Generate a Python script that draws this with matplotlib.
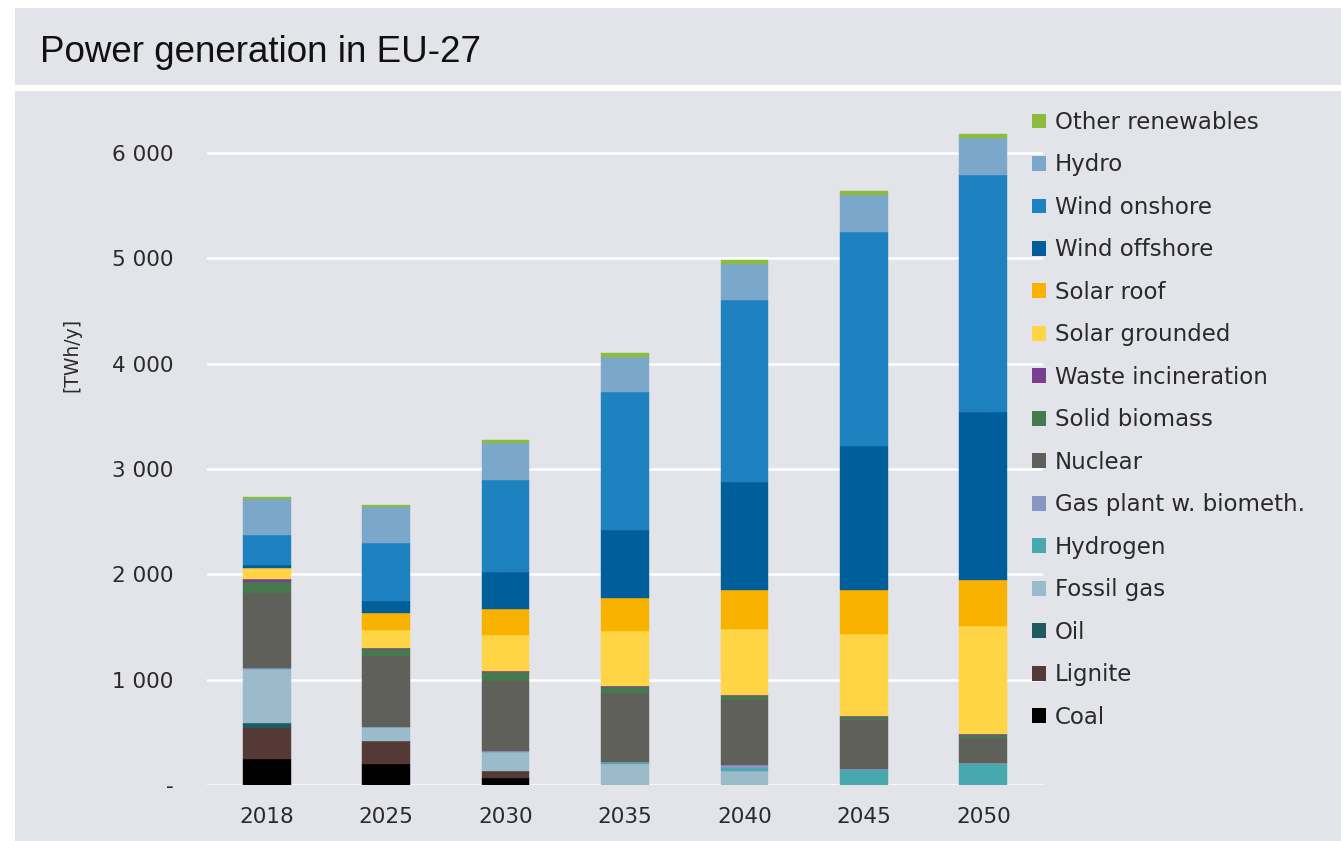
import matplotlib
matplotlib.use("Agg")
import matplotlib.pyplot as plt
from matplotlib.patches import Rectangle, Patch
import numpy as np

years = ["2018", "2025", "2030", "2035", "2040", "2045", "2050"]

coal = [247, 197, 64, 0, 0, 0, 0]
lignite = [297, 218, 69, 0, 0, 0, 0]
oil = [42, 0, 0, 0, 0, 0, 0]
fossil_gas = [513, 133, 182, 195, 130, 0, 0]
hydrogen = [0, 0, 0, 15, 36, 145, 199]
gas_biometh = [10, 0, 8, 6, 20, 11, 14]
nuclear = [717, 677, 667, 655, 621, 459, 236]
solid_biomass = [105, 64, 80, 57, 37, 26, 26]
waste_incineration = [25, 15, 13, 12, 13, 13, 13]
solar_grounded = [102, 168, 342, 522, 628, 778, 1024]
solar_roof = [0, 159, 244, 311, 369, 422, 431]
wind_offshore = [31, 116, 354, 649, 1026, 1362, 1600]
wind_onshore = [285, 548, 873, 1307, 1728, 2036, 2252]
hydro = [342, 342, 349, 338, 335, 347, 350]
other_renewables = [22, 22, 31, 38, 40, 38, 38]

series_labels = ["Coal", "Lignite", "Oil", "Fossil gas", "Hydrogen",
                 "Gas plant w. biometh.", "Nuclear", "Solid biomass",
                 "Waste incineration", "Solar grounded", "Solar roof",
                 "Wind offshore", "Wind onshore", "Hydro", "Other renewables"]
series_values = [coal, lignite, oil, fossil_gas, hydrogen, gas_biometh, nuclear,
                 solid_biomass, waste_incineration, solar_grounded, solar_roof,
                 wind_offshore, wind_onshore, hydro, other_renewables]
series_colors = ["#000000", "#553934", "#1E5A60", "#9BBBCA", "#47A9AE",
                 "#8796C3", "#5F605A", "#467A4E", "#793E8E", "#FFD545",
                 "#F9B200", "#005F9B", "#1F82C0", "#7BA7CB", "#8BBB3F"]

yticks = [0, 1000, 2000, 3000, 4000, 5000, 6000]
ytick_labels = ["-", "1 000", "2 000", "3 000", "4 000", "5 000", "6 000"]

W, H = 1341, 841
BG = "#E2E4E9"
fig = plt.figure(figsize=(W / 100, H / 100), dpi=100, facecolor="white")

# background panels
fig.patches.append(Rectangle((15 / W, 1 - 85 / H), 1 - 15 / W, 77 / H,
                             transform=fig.transFigure, facecolor=BG,
                             edgecolor="none", zorder=-10))
fig.patches.append(Rectangle((15 / W, 0), 1 - 15 / W, 1 - 91 / H,
                             transform=fig.transFigure, facecolor=BG,
                             edgecolor="none", zorder=-10))

fig.text(40 / W, 1 - 62 / H, "Power generation in EU-27",
         family="Liberation Sans", fontsize=26.5, color="#111111",
         va="baseline", ha="left")

ymax = 6500
px_per_unit = (785 - 153) / 6000
ax_h = ymax * px_per_unit
ax = fig.add_axes([207 / W, (H - 785) / H, (1043 - 207) / W, ax_h / H])
ax.set_facecolor("none")
ax.set_zorder(2)

x = np.arange(len(years))
bottom = np.zeros(len(years))
handles = []
for lab, vals, col in zip(series_labels, series_values, series_colors):
    v = np.array(vals, dtype=float)
    ax.bar(x, v, width=0.40, bottom=bottom, color=col, edgecolor=col,
           linewidth=0.3, zorder=3, label=lab)
    bottom += v
    handles.append(Patch(facecolor=col, edgecolor="none", label=lab))

ax.set_xlim(-0.5, 6.5)
ax.set_ylim(0, ymax)
ax.set_yticks(yticks)
ax.set_yticklabels(ytick_labels)
ax.set_xticks(x)
ax.set_xticklabels(years)
ax.grid(axis="y", color="white", linewidth=1.8, zorder=0)
ax.set_axisbelow(True)
for s in ax.spines.values():
    s.set_visible(False)
ax.tick_params(axis="both", length=0, labelsize=15.5, colors="#2a2a2a")
ax.tick_params(axis="y", pad=24)
ax.tick_params(axis="x", pad=16)

fig.text(72 / W, 1 - 355 / H, "[TWh/y]", rotation=90, fontsize=13.5,
         color="#2a2a2a", va="center", ha="center")

leg = fig.legend(handles=handles[::-1], loc="upper left",
                 bbox_to_anchor=(1032 / W, 1 - 111 / H),
                 frameon=False, fontsize=16.5, handlelength=0.61,
                 handleheight=0.61, handletextpad=0.4, labelspacing=0.85,
                 borderaxespad=0, borderpad=0)
leg.set_zorder(5)
for t in leg.get_texts():
    t.set_color("#2a2a2a")

fig.savefig("out.png", dpi=100, facecolor="white")
